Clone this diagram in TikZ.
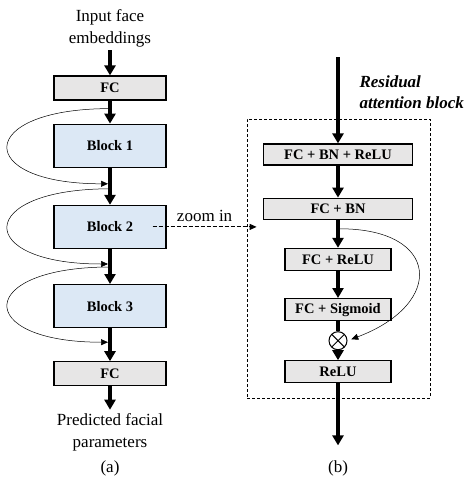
\documentclass[tikz,border=0pt]{standalone}
\usepackage{fontspec}
\setmainfont{Liberation Serif}
\usetikzlibrary{arrows.meta,positioning,calc}
\definecolor{fccolor}{RGB}{231,230,230}
\definecolor{blockcolor}{RGB}{220,232,245}

\begin{document}
\begin{tikzpicture}[
    x=1pt, y=-1pt,
    every node/.style={font=\fontsize{17}{22}\selectfont},
    layer/.style={rectangle, fill=fccolor, draw=black, line width=1.2pt, minimum width=112pt, minimum height=24pt, inner sep=0pt, font=\fontsize{14.5}{17}\selectfont\bfseries},
    block/.style={layer, fill=blockcolor, minimum height=43pt},
    wide/.style={layer, minimum width=149pt, minimum height=21pt},
    narrow/.style={layer, minimum width=106pt, minimum height=22pt},
    mul/.style={circle, draw=black, line width=1pt, minimum size=18pt, inner sep=0pt, path picture={\draw[line width=1pt] (path picture bounding box.north west) -- (path picture bounding box.south east) (path picture bounding box.north east) -- (path picture bounding box.south west);}},
    dashbox/.style={rectangle, draw=black, line width=0.8pt, dash pattern=on 3pt off 2pt, minimum width=183pt, minimum height=279pt, inner sep=0pt},
    arrow/.style={-{Triangle[length=10pt,width=11pt]}, line width=3.5pt, black},
    line/.style={line width=3.5pt, black},
    skip/.style={-{Triangle[length=7pt,width=6pt]}, line width=0.5pt, black},
    zoomarrow/.style={-{Triangle[length=7pt,width=6pt]}, line width=1pt, dash pattern=on 4pt off 2pt, black}
]
\useasboundingbox (0,0) rectangle (465,479);

% Left: whole network
\node[align=center] (input) at (110,28) {Input face\\embeddings};
\node[layer] (fc1) at (110,88) {FC};
\node[block, below=23pt of fc1] (b1) {Block 1};
\node[block, below=37pt of b1] (b2) {Block 2};
\node[block, below=35pt of b2] (b3) {Block 3};
\node[layer, below=33pt of b3] (fc2) {FC};
\node[align=center] (output) at (110,432) {Predicted facial\\parameters};
\node (capa) at (110,468) {(a)};

% Skip connections
\coordinate (s1) at ([yshift=-8pt]fc1.south);
\coordinate (e1) at ([xshift=-2pt,yshift=21pt]b2.north);
\coordinate (s2) at ([yshift=16pt]b2.north);
\coordinate (e2) at ([xshift=-2pt,yshift=20pt]b3.north);
\coordinate (s3) at ([yshift=17pt]b3.north);
\coordinate (e3) at ([xshift=-2pt,yshift=19pt]fc2.north);

% Right: residual attention block
\node[dashbox] (rab) at (338.5,258.5) {};
\coordinate (rtop) at (338,57);
\node[font=\fontsize{17}{21}\selectfont\bfseries\itshape, align=left, anchor=west] (rtitle) at (356,92) {Residual\\attention block};
\node[wide] (r1) at (338,154.5) {FC + BN + ReLU};
\node[wide, below=32pt of r1] (r2) {FC + BN};
\node[narrow, below=28pt of r2] (r3) {FC + ReLU};
\node[narrow, below=27pt of r3] (r4) {FC + Sigmoid};
\node[mul, below=10pt of r4] (m) {};
\node[narrow, below=10pt of m] (r5) {ReLU};
\coordinate (rbot) at ([yshift=-62pt]r5.south);
\coordinate (s4) at ([xshift=2pt,yshift=-9pt]r2.south);
\node (capb) at (338,468) {(b)};

% Arrows
\draw[arrow] (input) -- (fc1);
\draw[arrow] (fc1) -- (b1);
\draw[arrow] (b1) -- (b2);
\draw[arrow] (b2) -- (b3);
\draw[arrow] (b3) -- (fc2);
\draw[arrow] (fc2) -- (output);

\draw[skip] (s1) .. controls +(-135,0) and +(-135,0) .. (e1);
\draw[skip] (s2) .. controls +(-135,0) and +(-135,0) .. (e2);
\draw[skip] (s3) .. controls +(-135,0) and +(-135,0) .. (e3);

\coordinate (zend) at (b2.east -| rab.west);
\draw[zoomarrow] ([xshift=-14pt]b2.east) -- node[above=1pt] (zlab) {zoom in} ([xshift=10pt]zend);

\draw[arrow] (rtop) -- (r1);
\draw[arrow] (r1) -- (r2);
\draw[arrow] (r2) -- (r3);
\draw[arrow] (r3) -- (r4);
\draw[line] (r4) -- (m);
\draw[arrow] (m) -- (r5);
\draw[arrow] (r5) -- (rbot);
\draw[skip, shorten >=4pt] (s4) .. controls +(100,0) and +(98,-37) .. (m.east);

\end{tikzpicture}
\end{document}
